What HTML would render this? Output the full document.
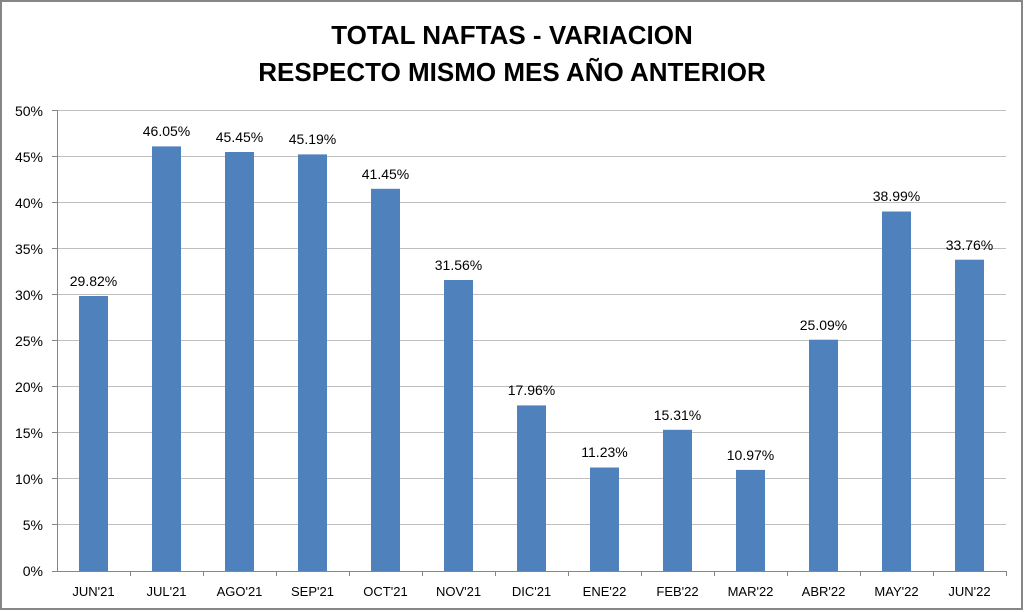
<!DOCTYPE html>
<html><head><style>
body{margin:0;background:#fff;}
svg{display:block;font-family:"Liberation Sans",Arial,sans-serif;}
</style></head><body>
<svg width="1024" height="612" xmlns="http://www.w3.org/2000/svg">
<rect x="1" y="1" width="1021" height="608" fill="#fff" stroke="#868686" stroke-width="2"/>
<text x="512" y="44" text-anchor="middle" font-size="26" font-weight="bold" fill="#000">TOTAL NAFTAS - VARIACION</text>
<text x="512" y="81" text-anchor="middle" font-size="26" font-weight="bold" fill="#000">RESPECTO MISMO MES AÑO ANTERIOR</text>
<g stroke="#bfbfbf" stroke-width="1">
<line x1="57" x2="1006" y1="110.5" y2="110.5"/>
<line x1="57" x2="1006" y1="156.5" y2="156.5"/>
<line x1="57" x2="1006" y1="202.5" y2="202.5"/>
<line x1="57" x2="1006" y1="248.5" y2="248.5"/>
<line x1="57" x2="1006" y1="294.5" y2="294.5"/>
<line x1="57" x2="1006" y1="340.5" y2="340.5"/>
<line x1="57" x2="1006" y1="386.5" y2="386.5"/>
<line x1="57" x2="1006" y1="432.5" y2="432.5"/>
<line x1="57" x2="1006" y1="478.5" y2="478.5"/>
<line x1="57" x2="1006" y1="524.5" y2="524.5"/>
</g>
<g fill="#4f81bd">
<rect x="79" y="296" width="29" height="275"/>
<rect x="152" y="146.4" width="29" height="424.6"/>
<rect x="225" y="152" width="29" height="419"/>
<rect x="298" y="154.4" width="29" height="416.6"/>
<rect x="371" y="188.8" width="29" height="382.2"/>
<rect x="444" y="280" width="29" height="291"/>
<rect x="517" y="405.4" width="29" height="165.6"/>
<rect x="590" y="467.5" width="29" height="103.5"/>
<rect x="663" y="429.8" width="29" height="141.2"/>
<rect x="736" y="469.9" width="29" height="101.1"/>
<rect x="809" y="339.7" width="29" height="231.3"/>
<rect x="882" y="211.5" width="29" height="359.5"/>
<rect x="955" y="259.7" width="29" height="311.3"/>
</g>
<g stroke="#868686" stroke-width="1">
<line x1="57.5" x2="57.5" y1="110" y2="571"/>
<line x1="57" x2="1006" y1="571.5" y2="571.5"/>
<line x1="52" x2="57" y1="110.5" y2="110.5"/><line x1="52" x2="57" y1="156.5" y2="156.5"/><line x1="52" x2="57" y1="202.5" y2="202.5"/><line x1="52" x2="57" y1="248.5" y2="248.5"/><line x1="52" x2="57" y1="294.5" y2="294.5"/><line x1="52" x2="57" y1="340.5" y2="340.5"/><line x1="52" x2="57" y1="386.5" y2="386.5"/><line x1="52" x2="57" y1="432.5" y2="432.5"/><line x1="52" x2="57" y1="478.5" y2="478.5"/><line x1="52" x2="57" y1="524.5" y2="524.5"/><line x1="52" x2="57" y1="571.5" y2="571.5"/>
<line x1="130.5" x2="130.5" y1="571" y2="576"/><line x1="203.5" x2="203.5" y1="571" y2="576"/><line x1="276.5" x2="276.5" y1="571" y2="576"/><line x1="349.5" x2="349.5" y1="571" y2="576"/><line x1="422.5" x2="422.5" y1="571" y2="576"/><line x1="495.5" x2="495.5" y1="571" y2="576"/><line x1="568.5" x2="568.5" y1="571" y2="576"/><line x1="641.5" x2="641.5" y1="571" y2="576"/><line x1="714.5" x2="714.5" y1="571" y2="576"/><line x1="787.5" x2="787.5" y1="571" y2="576"/><line x1="860.5" x2="860.5" y1="571" y2="576"/><line x1="933.5" x2="933.5" y1="571" y2="576"/><line x1="1006.5" x2="1006.5" y1="571" y2="576"/>
</g>
<g font-size="14" fill="#000" text-anchor="end">
<text x="43" y="116">50%</text><text x="43" y="162">45%</text><text x="43" y="208">40%</text><text x="43" y="254">35%</text><text x="43" y="300">30%</text><text x="43" y="346">25%</text><text x="43" y="392">20%</text><text x="43" y="438">15%</text><text x="43" y="484">10%</text><text x="43" y="530">5%</text><text x="43" y="576">0%</text>
</g>
<g font-size="14" fill="#000" text-anchor="middle">
<text x="93.5" y="286">29.82%</text>
<text x="166.5" y="136">46.05%</text>
<text x="239.5" y="142">45.45%</text>
<text x="312.5" y="144">45.19%</text>
<text x="385.5" y="179">41.45%</text>
<text x="458.5" y="270">31.56%</text>
<text x="531.5" y="395">17.96%</text>
<text x="604.5" y="457">11.23%</text>
<text x="677.5" y="420">15.31%</text>
<text x="750.5" y="460">10.97%</text>
<text x="823.5" y="330">25.09%</text>
<text x="896.5" y="201">38.99%</text>
<text x="969.5" y="250">33.76%</text>
</g>
<g font-size="13" fill="#000" text-anchor="middle">
<text x="93.5" y="596">JUN'21</text><text x="166.5" y="596">JUL'21</text><text x="239.5" y="596">AGO'21</text><text x="312.5" y="596">SEP'21</text><text x="385.5" y="596">OCT'21</text><text x="458.5" y="596">NOV'21</text><text x="531.5" y="596">DIC'21</text><text x="604.5" y="596">ENE'22</text><text x="677.5" y="596">FEB'22</text><text x="750.5" y="596">MAR'22</text><text x="823.5" y="596">ABR'22</text><text x="896.5" y="596">MAY'22</text><text x="969.5" y="596">JUN'22</text>
</g>
</svg>
</body></html>
